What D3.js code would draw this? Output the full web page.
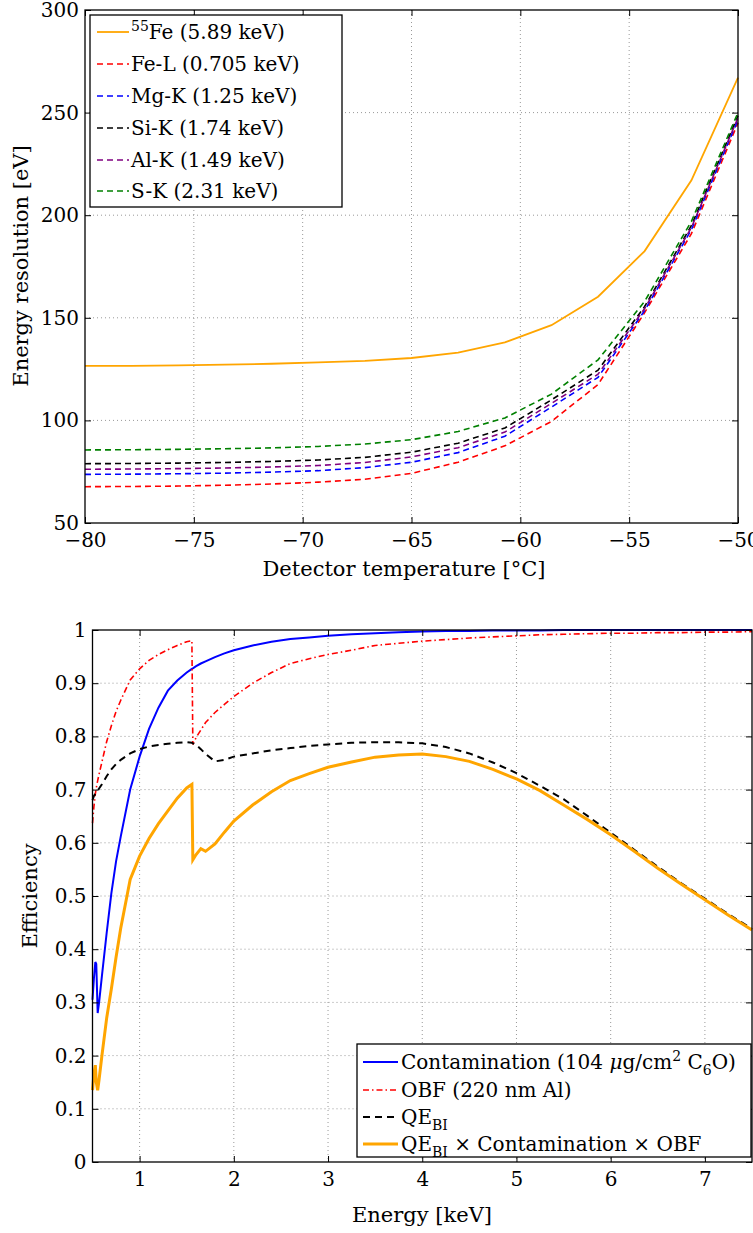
<!DOCTYPE html>
<html>
<head>
<meta charset="utf-8">
<script src="https://cdn.jsdelivr.net/npm/d3@7"></script>
<style>
body { margin: 0; background: #fff; }
svg text { font-family: "DejaVu Serif", serif; fill: #000; }
.grid line { stroke: #999; stroke-width: 1; stroke-dasharray: 1,3; }
</style>
</head>
<body>
<svg id="chart" width="753" height="1233"></svg>
<script>
// ---- top panel: energy resolution vs detector temperature
var temps = [-80, -77.86, -75.71, -73.57, -71.43, -69.29, -67.14, -65, -62.86, -60.71, -58.57, -56.43, -54.29, -52.14, -50];
var resFe55 = [126.6, 126.6, 126.8, 127.2, 127.6, 128.3, 129.0, 130.4, 133.0, 138.0, 146.4, 160.3, 182.5, 217, 267];
var resFeL  = [67.7, 67.8, 68.0, 68.4, 69.0, 69.9, 71.3, 74.2, 79.6, 87.6, 99.5, 117.5, 152.5, 191, 245];
var resMgK  = [73.7, 73.8, 74.0, 74.3, 74.8, 75.5, 77.0, 79.6, 84.3, 92.3, 106.5, 121, 153.5, 193, 246.5];
var resSiK  = [78.9, 79.0, 79.2, 79.5, 80.0, 80.7, 82.0, 84.5, 88.9, 96.3, 110, 124.5, 155.5, 195, 248.5];
var resAlK  = [76.2, 76.3, 76.5, 76.8, 77.3, 78.0, 79.5, 82.2, 86.7, 94.3, 108.3, 122.5, 154.5, 194, 247.5];
var resSK   = [85.6, 85.7, 85.9, 86.2, 86.6, 87.3, 88.5, 90.6, 94.6, 101.2, 112.8, 129.5, 158, 197, 250];
var resTicksX = [-80, -75, -70, -65, -60, -55, -50];
var resTicksY = [50, 100, 150, 200, 250, 300];

// ---- bottom panel: efficiency vs energy
var energy = [0.5, 0.515, 0.53, 0.54, 0.555, 0.57, 0.6, 0.65, 0.7, 0.75, 0.8, 0.9, 1.0, 1.1, 1.2, 1.3, 1.4, 1.5, 1.555, 1.565, 1.6, 1.65, 1.7, 1.8, 1.9, 2.0, 2.2, 2.4, 2.6, 2.8, 3.0, 3.25, 3.5, 3.75, 4.0, 4.25, 4.5, 4.75, 5.0, 5.25, 5.5, 5.75, 6.0, 6.25, 6.5, 6.75, 7.0, 7.25, 7.5];
var effContam = [0.305, 0.345, 0.376, 0.372, 0.28, 0.30, 0.35, 0.43, 0.505, 0.565, 0.612, 0.70, 0.762, 0.814, 0.854, 0.886, 0.905, 0.92, 0.927, 0.928, 0.932, 0.937, 0.941, 0.949, 0.956, 0.962, 0.971, 0.978, 0.983, 0.986, 0.989, 0.992, 0.994, 0.996, 0.997, 0.998, 0.998, 0.999, 0.999, 0.999, 1, 1, 1, 1, 1, 1, 1, 1, 1];
var effOBF = [0.637, 0.668, 0.692, 0.703, 0.717, 0.729, 0.752, 0.79, 0.82, 0.847, 0.868, 0.906, 0.927, 0.943, 0.954, 0.963, 0.971, 0.978, 0.980, 0.785, 0.798, 0.812, 0.826, 0.845, 0.86, 0.875, 0.9, 0.92, 0.937, 0.946, 0.954, 0.962, 0.971, 0.975, 0.979, 0.982, 0.985, 0.987, 0.989, 0.991, 0.992, 0.993, 0.994, 0.994, 0.995, 0.995, 0.996, 0.996, 0.997];
var effQE = [0.68, 0.688, 0.692, 0.694, 0.698, 0.702, 0.71, 0.725, 0.738, 0.748, 0.756, 0.768, 0.776, 0.781, 0.784, 0.786, 0.788, 0.789, 0.788, 0.787, 0.784, 0.776, 0.767, 0.753, 0.756, 0.762, 0.768, 0.774, 0.778, 0.782, 0.785, 0.788, 0.789, 0.789, 0.787, 0.78, 0.768, 0.751, 0.731, 0.707, 0.682, 0.651, 0.619, 0.587, 0.555, 0.524, 0.495, 0.466, 0.438];
var effTotal = [0.135, 0.165, 0.182, 0.15, 0.135, 0.155, 0.2, 0.27, 0.325, 0.385, 0.44, 0.531, 0.575, 0.608, 0.636, 0.66, 0.684, 0.703, 0.71, 0.568, 0.578, 0.589, 0.584, 0.598, 0.62, 0.641, 0.671, 0.696, 0.717, 0.73, 0.742, 0.752, 0.761, 0.765, 0.767, 0.762, 0.753, 0.738, 0.72, 0.698, 0.671, 0.644, 0.615, 0.584, 0.552, 0.522, 0.493, 0.464, 0.436];
var effTicksX = [1, 2, 3, 4, 5, 6, 7];
var effTicksY = [0, 0.1, 0.2, 0.3, 0.4, 0.5, 0.6, 0.7, 0.8, 0.9, 1];

var svg = d3.select("#chart");
var FS = 20;

function rich(t, parts) {
  var shift = 0;
  parts.forEach(function(p) {
    var ts = t.append("tspan").text(p[0]);
    var target = p[1] == "sup" ? -0.4 * FS : (p[1] == "sub" ? 0.28 * FS : 0);
    ts.attr("dy", target - shift);
    shift = target;
    if (p[1] == "sup" || p[1] == "sub") ts.style("font-size", (FS * 0.7) + "px");
    if (p[1] == "it") ts.style("font-style", "italic");
  });
}

function minus(d) { return d < 0 ? "\u2212" + Math.abs(d) : String(d); }

function panel(o) {
  var g = svg.append("g");
  var x = d3.scaleLinear().domain(o.xdom).range(o.xr);
  var y = d3.scaleLinear().domain(o.ydom).range(o.yr);

  // grid
  var grid = g.append("g").attr("class", "grid");
  grid.selectAll(".gx").data(o.xt.filter(function(d) { return d > o.xdom[0] && d < o.xdom[1]; }))
    .enter().append("line")
    .attr("x1", function(d) { return x(d); }).attr("x2", function(d) { return x(d); })
    .attr("y1", o.yr[1]).attr("y2", o.yr[0]);
  grid.selectAll(".gy").data(o.yt.filter(function(d) { return d > o.ydom[0] && d < o.ydom[1]; }))
    .enter().append("line")
    .attr("y1", function(d) { return y(d); }).attr("y2", function(d) { return y(d); })
    .attr("x1", o.xr[0]).attr("x2", o.xr[1]);

  // lines
  var line = d3.line().x(function(d) { return x(d[0]); }).y(function(d) { return y(d[1]); });
  o.series.forEach(function(s) {
    g.append("path")
      .datum(o.xs.map(function(v, i) { return [v, s.vals[i]]; }))
      .attr("d", line)
      .attr("fill", "none")
      .attr("stroke", s.color)
      .attr("stroke-width", s.w)
      .attr("stroke-dasharray", s.dash);
  });

  // axes, ticks pointing inwards
  var ax = g.append("g").attr("transform", "translate(0," + o.yr[0] + ")")
    .call(d3.axisBottom(x).tickValues(o.xt).tickSizeInner(-6).tickSizeOuter(0).tickPadding(10).tickFormat(o.xf));
  g.append("g").attr("transform", "translate(0," + o.yr[1] + ")")
    .call(d3.axisTop(x).tickValues(o.xt).tickSizeInner(-6).tickSizeOuter(0).tickFormat(""));
  var ay = g.append("g").attr("transform", "translate(" + o.xr[0] + ",0)")
    .call(d3.axisLeft(y).tickValues(o.yt).tickSizeInner(-6).tickSizeOuter(0).tickPadding(6).tickFormat(o.yf));
  g.append("g").attr("transform", "translate(" + o.xr[1] + ",0)")
    .call(d3.axisRight(y).tickValues(o.yt).tickSizeInner(-6).tickSizeOuter(0).tickFormat(""));
  g.selectAll(".domain").remove();
  g.selectAll(".tick line").attr("stroke", "#000");
  g.selectAll(".tick text").attr("font-family", null).style("font-size", FS + "px");

  g.append("rect")
    .attr("x", o.xr[0]).attr("y", o.yr[1])
    .attr("width", o.xr[1] - o.xr[0]).attr("height", o.yr[0] - o.yr[1])
    .attr("fill", "none").attr("stroke", "#000").attr("stroke-width", 1.3);

  // axis titles
  g.append("text").attr("x", o.xlab[1]).attr("y", o.xlab[2])
    .attr("text-anchor", "middle").style("font-size", (FS + 1) + "px").text(o.xlab[0]);
  g.append("text").attr("transform", "translate(" + o.ylab[1] + "," + o.ylab[2] + ") rotate(-90)")
    .attr("text-anchor", "middle").style("font-size", (FS + 1) + "px").text(o.ylab[0]);

  // legend
  var L = o.legend;
  var lg = g.append("g");
  lg.append("rect").attr("x", L.x).attr("y", L.y).attr("width", L.w).attr("height", L.h)
    .attr("fill", "#fff").attr("stroke", "#000").attr("stroke-width", 1.3);
  o.series.forEach(function(s, i) {
    var yy = L.rows[i];
    lg.append("line").attr("x1", L.lx[0]).attr("x2", L.lx[1]).attr("y1", yy).attr("y2", yy)
      .attr("stroke", s.color).attr("stroke-width", s.w).attr("stroke-dasharray", s.dash);
    var t = lg.append("text").attr("x", L.tx).attr("y", yy + 7).style("font-size", FS + "px");
    rich(t, s.label);
  });
}

panel({
  xdom: [-80, -50], xr: [85, 738],
  ydom: [50, 300], yr: [523, 10],
  xt: resTicksX, yt: resTicksY, xf: minus, yf: function(d) { return d; },
  xs: temps,
  series: [
    {vals: resFe55, color: "#ffa500", w: 1.8, dash: null, label: [["55", "sup"], ["Fe (5.89 keV)"]]},
    {vals: resFeL, color: "#ff0000", w: 1.6, dash: "6,4", label: [["Fe-L (0.705 keV)"]]},
    {vals: resMgK, color: "#0000ff", w: 1.6, dash: "6,4", label: [["Mg-K (1.25 keV)"]]},
    {vals: resSiK, color: "#000000", w: 1.6, dash: "6,4", label: [["Si-K (1.74 keV)"]]},
    {vals: resAlK, color: "#800080", w: 1.6, dash: "6,4", label: [["Al-K (1.49 keV)"]]},
    {vals: resSK, color: "#008000", w: 1.6, dash: "6,4", label: [["S-K (2.31 keV)"]]}
  ],
  xlab: ["Detector temperature [\u00b0C]", 404, 576],
  ylab: ["Energy resolution [eV]", 28, 266],
  legend: {x: 90, y: 15, w: 252, h: 192, rows: [32, 64, 96, 128, 160, 191], lx: [97, 129], tx: 131}
});

panel({
  xdom: [0.5, 7.5], xr: [92.5, 752],
  ydom: [0, 1], yr: [1162, 630],
  xt: effTicksX, yt: effTicksY, xf: function(d) { return d; }, yf: function(d) { return d; },
  xs: energy,
  series: [
    {vals: effContam, color: "#0000ff", w: 2, dash: null, label: [["Contamination (104 "], ["\u03bc", "it"], ["g/cm"], ["2", "sup"], [" C"], ["6", "sub"], ["O)"]]},
    {vals: effOBF, color: "#ff0000", w: 1.6, dash: "6,3,1.5,3", label: [["OBF (220 nm Al)"]]},
    {vals: effQE, color: "#000000", w: 2, dash: "7,5", label: [["QE"], ["BI", "sub"]]},
    {vals: effTotal, color: "#ffa500", w: 3, dash: null, label: [["QE"], ["BI", "sub"], [" \u00d7 Contamination \u00d7 OBF"]]}
  ],
  xlab: ["Energy [keV]", 422, 1222],
  ylab: ["Efficiency", 37, 896],
  legend: {x: 357, y: 1044, w: 394, h: 113, rows: [1062, 1090, 1117, 1144], lx: [363, 398], tx: 401}
});
</script>
</body>
</html>
